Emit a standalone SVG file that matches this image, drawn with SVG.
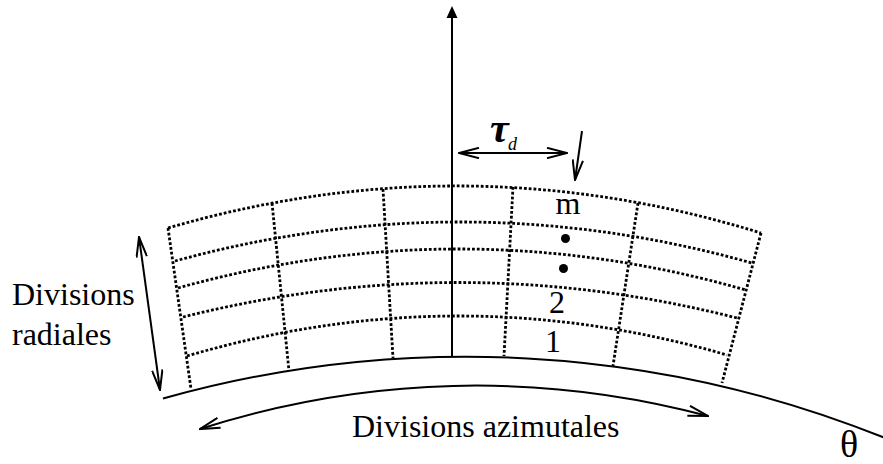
<svg xmlns="http://www.w3.org/2000/svg" width="883" height="464" viewBox="0 0 883 464">
<style>
  .txt { font-family: "Liberation Serif", "Times New Roman", serif; fill: #000; }
  .dot { fill: none; stroke: #000; stroke-width: 2.8; stroke-dasharray: 2.8 2; }
  .line { fill: none; stroke: #000; stroke-width: 2; }
</style>
<defs>
  <marker id="open" viewBox="0 0 22 12" refX="21" refY="6" markerWidth="22" markerHeight="12" markerUnits="userSpaceOnUse" orient="auto-start-reverse">
    <path d="M1,0.8 L21,6 L1,11.2" fill="none" stroke="#000" stroke-width="2"/>
  </marker>
</defs>
<rect width="883" height="464" fill="#fff"/>

<g id="grid">
  <path class="dot" d="M168,228 Q464.5,141.5 761,233"/>
  <path class="dot" d="M175,261 Q463.5,182 752,263"/>
  <path class="dot" d="M178,288 Q462,209 746,290"/>
  <path class="dot" d="M183,317 Q460,247.5 737,318"/>
  <path class="dot" d="M187,356 Q457,276.5 727,355"/>
  <path class="dot" d="M168,228 L191,389"/>
  <path class="dot" d="M272,203 L289,371"/>
  <path class="dot" d="M383,189 L393,358"/>
  <path class="dot" d="M513,187 L504,356"/>
  <path class="dot" d="M638,203 L613,366"/>
  <path class="dot" d="M761,233 L722,383"/>
</g>

<g id="base">
  <path class="line" d="M163,398.5 A1120,1120 0 0 1 885,438"/>
</g>

<g id="axis">
  <line class="line" x1="452" y1="357" x2="452" y2="15"/>
  <polygon points="452,6 446.5,18 457.5,18" fill="#000"/>
</g>

<g id="connectors">
  <line class="line" x1="459" y1="153" x2="567" y2="153" marker-start="url(#open)" marker-end="url(#open)"/>
  <line class="line" x1="582" y1="131" x2="575" y2="180" marker-end="url(#open)"/>
  <line class="line" x1="139" y1="237" x2="160" y2="390" marker-start="url(#open)" marker-end="url(#open)"/>
  <path class="line" d="M200,429 A900,900 0 0 1 708,416" marker-start="url(#open)" marker-end="url(#open)"/>
</g>

<g id="labels">
  <text class="txt" x="490" y="142" font-size="42" font-style="italic" font-weight="bold">τ</text>
  <text class="txt" x="508" y="150" font-size="18" font-style="italic">d</text>
  <text class="txt" x="568" y="214" font-size="32" text-anchor="middle">m</text>
  <circle cx="565.5" cy="238.5" r="4.5" fill="#000"/>
  <circle cx="563.5" cy="268.5" r="4.5" fill="#000"/>
  <text class="txt" x="557" y="313" font-size="32" text-anchor="middle">2</text>
  <text class="txt" x="553" y="352" font-size="32" text-anchor="middle">1</text>
  <text class="txt" x="12" y="305" font-size="32">Divisions</text>
  <text class="txt" x="12" y="345" font-size="32">radiales</text>
  <text class="txt" x="352" y="437" font-size="32">Divisions azimutales</text>
  <text class="txt" x="849" y="457" font-size="38" text-anchor="middle">θ</text>
</g>
</svg>
